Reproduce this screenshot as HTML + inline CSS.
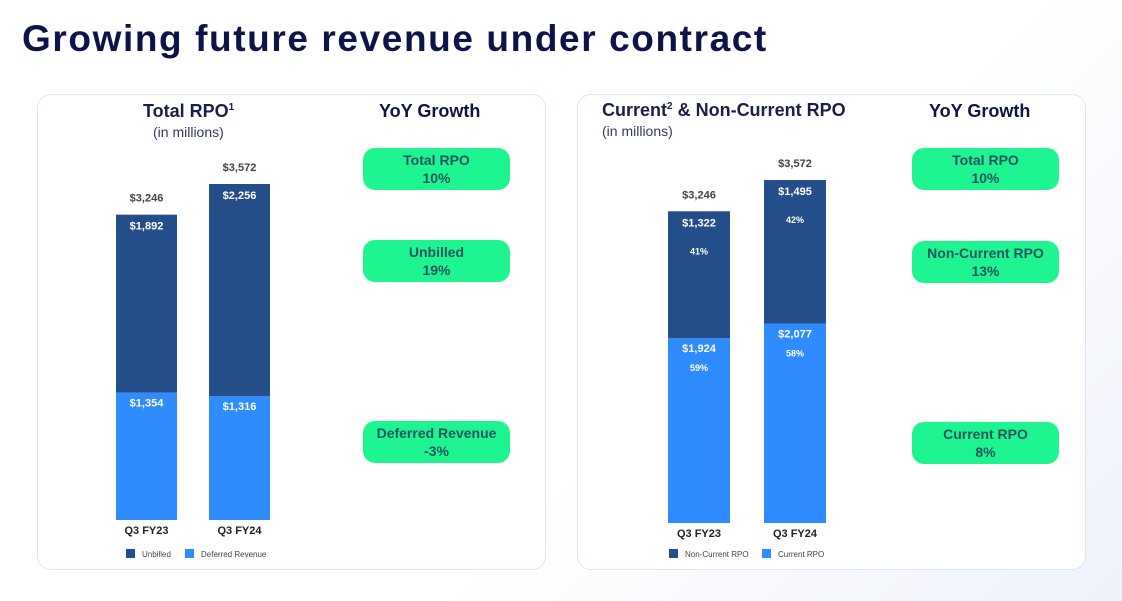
<!DOCTYPE html>
<html><head><meta charset="utf-8"><style>
body{margin:0;width:1122px;height:601px;background:linear-gradient(135deg,#fff 60%,#eef2fb 100%);font-family:"Liberation Sans",sans-serif;position:relative;overflow:hidden}
.t{position:absolute;white-space:nowrap}
.panel{position:absolute;top:94px;width:509px;height:476px;border:1.5px solid #dde6f5;border-radius:14px;background:#fff;box-sizing:border-box}
.pill{position:absolute;width:147px;height:42px;background:#1ef590;border-radius:12px;color:#1d5560;font-weight:bold;font-size:14px;text-align:center;line-height:18px;padding-top:3px;box-sizing:border-box}
</style></head><body>
<div class="t" style="left:22px;top:18px;font-size:37px;font-weight:bold;color:#0d1447;letter-spacing:1.6px">Growing future revenue under contract</div>
<div class="panel" style="left:37px"></div>
<div class="panel" style="left:577px"></div>
<div class="t" style="left:143px;top:101px;font-size:18px;font-weight:bold;color:#1a1f4a">Total RPO<sup style="font-size:10px">1</sup></div>
<div class="t" style="left:153px;top:124px;font-size:14px;color:#333a5a">(in millions)</div>
<div class="t" style="left:602px;top:100px;font-size:18px;font-weight:bold;color:#1a1f4a">Current<sup style="font-size:10px">2</sup> &amp; Non-Current RPO</div>
<div class="t" style="left:602px;top:123px;font-size:14px;color:#333a5a">(in millions)</div>
<div class="t" style="left:379px;top:101px;font-size:18px;font-weight:bold;color:#0d1447">YoY Growth</div>
<div class="t" style="left:929px;top:101px;font-size:18px;font-weight:bold;color:#0d1447">YoY Growth</div>
<div class="pill" style="left:363px;top:148px">Total RPO<br>10%</div>
<div class="pill" style="left:363px;top:240px">Unbilled<br>19%</div>
<div class="pill" style="left:363px;top:421px">Deferred Revenue<br>-3%</div>
<div class="pill" style="left:912px;top:148px">Total RPO<br>10%</div>
<div class="pill" style="left:912px;top:241px">Non-Current RPO<br>13%</div>
<div class="pill" style="left:912px;top:422px">Current RPO<br>8%</div>
<svg id="c" width="1122" height="601" style="position:absolute;left:0;top:0"></svg>
<script>
const categories=["Q3 FY23","Q3 FY24"];
const unbilled=[1892,2256];
const deferred=[1354,1316];
const nonCurrent=[1322,1495];
const current=[1924,2077];
const ncPct=["41%","42%"];
const cPct=["59%","58%"];
const totals=[3246,3572];
const svg=document.getElementById('c');
const NS='http://www.w3.org/2000/svg';
function el(tag,attrs,txt){const e=document.createElementNS(NS,tag);for(const k in attrs)e.setAttribute(k,attrs[k]);if(txt!=null)e.textContent=txt;svg.appendChild(e);return e;}
const fmt=v=>'$'+v.toLocaleString('en-US');
function chart(cfg){
  const y=v=>cfg.base-v*cfg.scale;
  categories.forEach((c,i)=>{
    const x=cfg.xs[i],lo=cfg.lower[i],up=cfg.upper[i];
    const r1=el('rect',{x:x,y:y(lo),width:cfg.w,height:cfg.base-y(lo),fill:'#2e8cff'});
    
    
    const r2=el('rect',{x:x,y:y(lo+up),width:cfg.w,height:y(lo)-y(lo+up),fill:'#234e8a'});
    
    
    const cx=x+cfg.w/2;
    const t1=el('text',{x:cx,y:y(lo+up)-13,'text-anchor':'middle','font-size':11,'font-weight':'bold',fill:'#444'},fmt(lo+up));
    
    
    const t2=el('text',{x:cx,y:y(lo+up)+15,'text-anchor':'middle','font-size':11,'font-weight':'bold',fill:'#fff'},fmt(up));
    
    
    const t3=el('text',{x:cx,y:y(lo)+14,'text-anchor':'middle','font-size':11,'font-weight':'bold',fill:'#fff'},fmt(lo));
    
    
    if(cfg.upct){
      const p1=el('text',{x:cx,y:y(lo+up)+43,'text-anchor':'middle','font-size':9,'font-weight':'bold',fill:'#fff'},cfg.upct[i]);
      
      
      const p2=el('text',{x:cx,y:y(lo)+33,'text-anchor':'middle','font-size':9,'font-weight':'bold',fill:'#fff'},cfg.lpct[i]);
      
      
    }
    const xl=el('text',{x:cx,y:cfg.base+14,'text-anchor':'middle','font-size':11,'font-weight':'bold',fill:'#222'},c);
    
    
  });
  cfg.legend.forEach((l,i)=>{
    const lx=cfg.legX[i];
    const s=el('rect',{x:lx,y:549,width:9,height:9,fill:i?'#2e8cff':'#234e8a'});
    
    
    const t=el('text',{x:lx+16,y:557,'font-size':8,fill:'#444'},l);
    
    
  });
}
chart({base:520,scale:336/3572,xs:[116,209],w:61,lower:deferred,upper:unbilled,legend:['Unbilled','Deferred Revenue'],legX:[126,185]});
chart({base:523,scale:343/3572,xs:[668,764],w:62,lower:current,upper:nonCurrent,upct:ncPct,lpct:cPct,legend:['Non-Current RPO','Current RPO'],legX:[669,762]});
</script>
</body></html>
